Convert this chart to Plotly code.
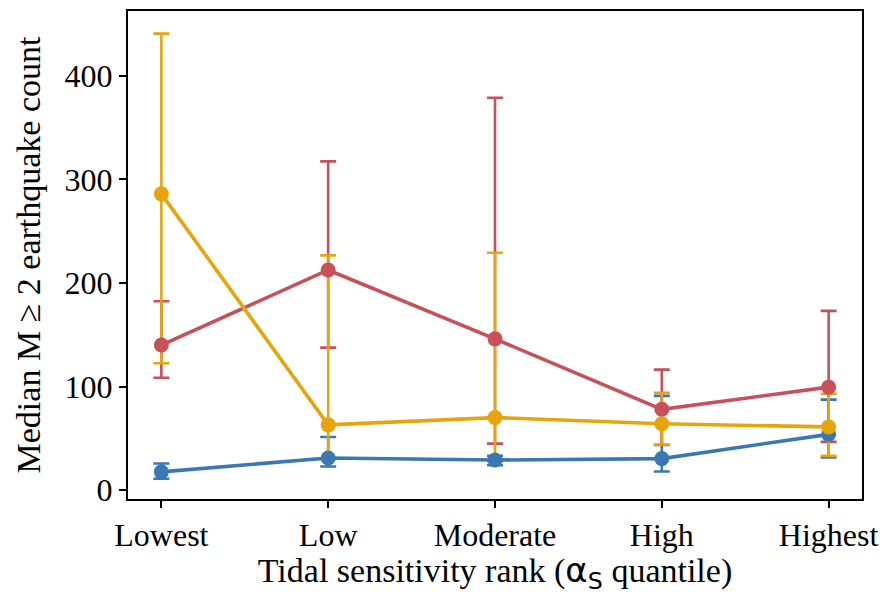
import plotly.graph_objects as go

# Tidal sensitivity quantile groups
categories = ["Lowest", "Low", "Moderate", "High", "Highest"]

# Median M>=2 earthquake counts with lower/upper bounds for each group
blue_median = [17.6, 31.0, 29.0, 30.4, 53.8]
blue_low = [11.0, 22.8, 24.0, 18.0, 31.4]
blue_high = [25.6, 51.3, 33.0, 91.0, 87.3]

red_median = [140.0, 212.5, 146.0, 78.0, 99.4]
red_low = [108.4, 137.5, 44.9, 43.6, 46.5]
red_high = [182.3, 317.3, 378.8, 116.3, 173.0]

yellow_median = [286.0, 63.0, 70.0, 64.0, 61.0]
yellow_low = [122.4, 30.0, 28.0, 44.0, 33.0]
yellow_high = [440.7, 226.6, 229.1, 93.9, 93.0]

series = [
    (blue_median, blue_low, blue_high, "#3B77B3"),
    (red_median, red_low, red_high, "#C8505A"),
    (yellow_median, yellow_low, yellow_high, "#E6A50C"),
]

x = list(range(len(categories)))
fig = go.Figure()

# Error bars first so every line and marker sits above them
for med, lo, hi, col in series:
    fig.add_trace(go.Scatter(
        x=x, y=med, mode="markers",
        marker=dict(size=1, opacity=0, color=col),
        error_y=dict(
            type="data", symmetric=False,
            array=[h - m for h, m in zip(hi, med)],
            arrayminus=[m - l for m, l in zip(med, lo)],
            color=col, thickness=2.6, width=8,
        ),
        showlegend=False, hoverinfo="skip",
    ))

for med, lo, hi, col in series:
    fig.add_trace(go.Scatter(
        x=x, y=med, mode="lines+markers",
        line=dict(color=col, width=3.6),
        marker=dict(color=col, size=15),
        showlegend=False,
    ))

serif = "Liberation Serif, Times New Roman, serif"
tick_font = dict(family=serif, size=32, color="black")
title_font = dict(family=serif, size=34, color="black")

fig.update_layout(
    width=889, height=595,
    margin=dict(l=128, r=27, t=9, b=96),
    paper_bgcolor="white", plot_bgcolor="white",
    font=tick_font,
    xaxis=dict(
        range=[-0.2, 4.2],
        tickvals=x, ticktext=categories,
        showgrid=False, zeroline=False,
        showline=True, mirror=True, linecolor="black", linewidth=2,
        ticks="outside", ticklen=7, tickwidth=2, tickcolor="black",
        tickfont=tick_font,
        title=dict(
            text="Tidal sensitivity rank (<span style='font-family:DejaVu Sans'>α<sub>S</sub></span> quantile)",
            font=title_font, standoff=6,
        ),
    ),
    yaxis=dict(
        range=[-8.6, 462.5],
        tickvals=[0, 100, 200, 300, 400],
        showgrid=False, zeroline=False,
        showline=True, mirror=True, linecolor="black", linewidth=2,
        ticks="outside", ticklen=7, tickwidth=2, tickcolor="black",
        tickfont=tick_font,
        title=dict(text="Median M ≥ 2 earthquake count", font=title_font, standoff=14),
    ),
)

fig.write_html("out.html")
